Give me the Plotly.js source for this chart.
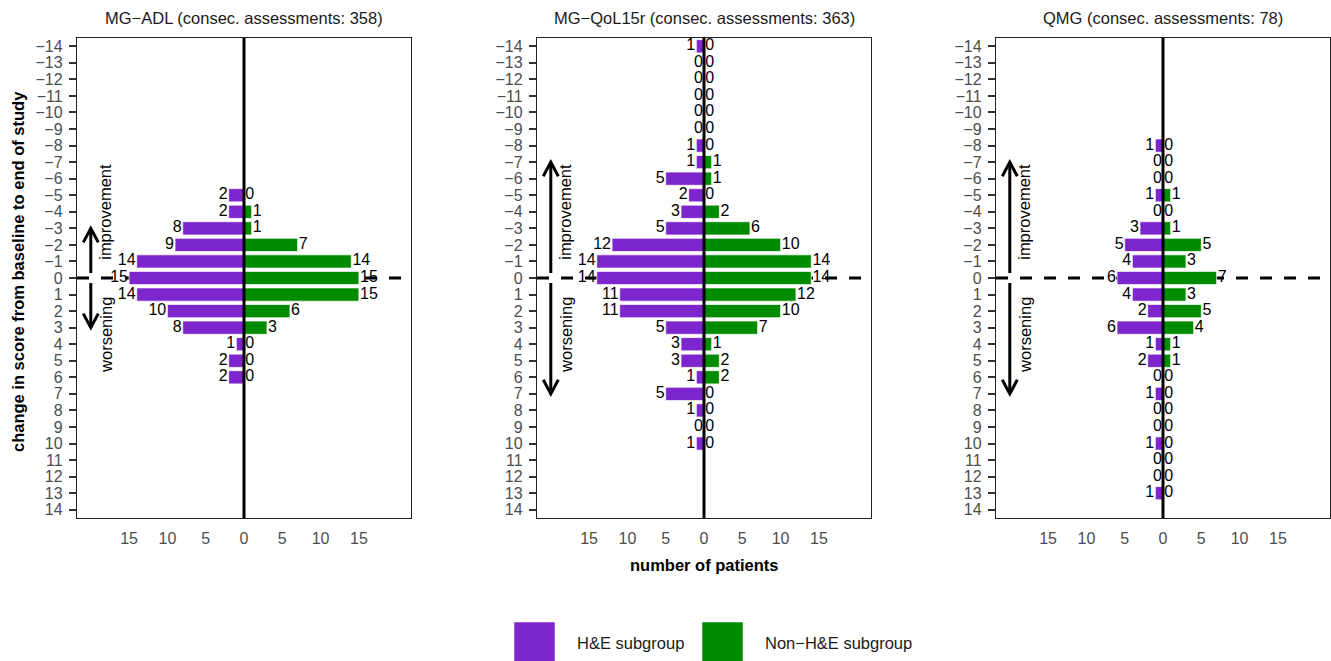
<!DOCTYPE html>
<html>
<head>
<meta charset="utf-8">
<script src="https://cdn.plot.ly/plotly-3.0.1.min.js"></script>
<style>html,body{margin:0;padding:0;background:#fff;}#chart{width:1331px;height:661px;}</style>
</head>
<body>
<div id="chart"></div>
<script>
// ---------- data ----------
const panelTitles = [
  "MG\u2212ADL (consec. assessments: 358)",
  "MG\u2212QoL15r (consec. assessments: 363)",
  "QMG (consec. assessments: 78)"
];
const seriesNames = ["H&amp;E subgroup", "Non\u2212H&amp;E subgroup"];

const changeADL = [-5, -4, -3, -2, -1, 0, 1, 2, 3, 4, 5, 6];
const heADL     = [ 2,  2,  8,  9, 14, 15, 14, 10, 8, 1, 2, 2];
const nonADL    = [ 0,  1,  1,  7, 14, 15, 15,  6, 3, 0, 0, 0];

const changeQoL = [-14, -13, -12, -11, -10, -9, -8, -7, -6, -5, -4, -3, -2, -1, 0, 1, 2, 3, 4, 5, 6, 7, 8, 9, 10];
const heQoL     = [  1,   0,   0,   0,   0,  0,  1,  1,  5,  2,  3,  5, 12, 14, 14, 11, 11, 5, 3, 3, 1, 5, 1, 0, 1];
const nonQoL    = [  0,   0,   0,   0,   0,  0,  0,  1,  1,  0,  2,  6, 10, 14, 14, 12, 10, 7, 1, 2, 2, 0, 0, 0, 0];

const changeQMG = [-8, -7, -6, -5, -4, -3, -2, -1, 0, 1, 2, 3, 4, 5, 6, 7, 8, 9, 10, 11, 12, 13];
const heQMG     = [ 1,  0,  0,  1,  0,  3,  5,  4, 6, 4, 2, 6, 1, 2, 0, 1, 0, 0, 1, 0, 0, 1];
const nonQMG    = [ 0,  0,  0,  1,  0,  1,  5,  3, 7, 3, 5, 4, 1, 1, 0, 0, 0, 0, 0, 0, 0, 0];

const arrowReach = [3, 7, 7];          // how far the improvement / worsening arrows extend

const yTickVals = [-14,-13,-12,-11,-10,-9,-8,-7,-6,-5,-4,-3,-2,-1,0,1,2,3,4,5,6,7,8,9,10,11,12,13,14];
const xTickVals = [-15, -10, -5, 0, 5, 10, 15];
const xTickText = ["15", "10", "5", "0", "5", "10", "15"];

// ---------- styling ----------
const W = 1331, H = 661;
const PURPLE = "#7D26CD", GREEN = "#008B00";
const FONT = "Liberation Sans, Arial, Helvetica, sans-serif";
const panelsPx = [[77, 411], [537, 871], [996, 1330]];
const plotTop = 38, plotBottom = 518;
const px2x = p => p / W;
const py2y = p => (H - p) / H;

const panels = [
  {change: changeADL, he: heADL, non: nonADL},
  {change: changeQoL, he: heQoL, non: nonQoL},
  {change: changeQMG, he: heQMG, non: nonQMG}
];

const traces = [];
const shapes = [];
const annotations = [];
const layout = {
  width: W, height: H, autosize: false,
  margin: {l: 0, r: 0, t: 0, b: 0},
  paper_bgcolor: "#fff", plot_bgcolor: "#fff",
  showlegend: false,
  barmode: "overlay",
  font: {family: FONT, color: "#000"}
};

panels.forEach((p, i) => {
  const n = i === 0 ? "" : String(i + 1);
  const xa = "x" + n, ya = "y" + n;
  traces.push({
    type: "bar", orientation: "h", xaxis: xa, yaxis: ya,
    y: p.change, x: p.he.map(v => -v), width: 0.8,
    marker: {color: PURPLE, line: {color: "rgba(255,255,255,0.7)", width: 1}},
    hoverinfo: "skip"
  });
  traces.push({
    type: "bar", orientation: "h", xaxis: xa, yaxis: ya,
    y: p.change, x: p.non, width: 0.8,
    marker: {color: GREEN, line: {color: "rgba(255,255,255,0.7)", width: 1}},
    hoverinfo: "skip"
  });
  traces.push({
    type: "scatter", mode: "markers+text", xaxis: xa, yaxis: ya,
    y: p.change, x: p.he.map(v => -v), text: p.he.map(String),
    textposition: "middle left", marker: {size: 0.2, opacity: 0},
    textfont: {family: FONT, size: 16, color: "#000"}, cliponaxis: false, hoverinfo: "skip"
  });
  traces.push({
    type: "scatter", mode: "markers+text", xaxis: xa, yaxis: ya,
    y: p.change, x: p.non, text: p.non.map(String),
    textposition: "middle right", marker: {size: 0.2, opacity: 0},
    textfont: {family: FONT, size: 16, color: "#000"}, cliponaxis: false, hoverinfo: "skip"
  });

  layout["xaxis" + n] = {
    domain: [px2x(panelsPx[i][0]), px2x(panelsPx[i][1])],
    anchor: ya, range: [-21.8, 21.8],
    tickvals: xTickVals, ticktext: xTickText,
    ticks: "outside", ticklen: 6, tickcolor: "rgba(0,0,0,0)",
    tickfont: {family: FONT, size: 16, color: "#4D4D4D"},
    showgrid: false, zeroline: false,
    showline: true, mirror: true, linecolor: "#222", linewidth: 1.2,
    fixedrange: true
  };
  layout["yaxis" + n] = {
    domain: [py2y(plotBottom), py2y(plotTop)],
    anchor: xa, range: [14.5, -14.5],
    tickvals: yTickVals,
    ticks: "outside", ticklen: 7, tickwidth: 2, tickcolor: "#333",
    ticklabelstandoff: 3,
    tickfont: {family: FONT, size: 16, color: "#4D4D4D"},
    showgrid: false, zeroline: false,
    showline: true, mirror: true, linecolor: "#222", linewidth: 1.2,
    fixedrange: true
  };

  // dashed line at no change
  shapes.push({type: "line", layer: "below", xref: xa + " domain", yref: ya,
    x0: 0, x1: 1, y0: 0, y1: 0, line: {color: "#000", width: 3, dash: "12px,12px"}});
  // vertical axis at 0 patients
  shapes.push({type: "line", layer: "above", xref: xa, yref: ya + " domain",
    x0: 0, x1: 0, y0: 0, y1: 1, line: {color: "#000", width: 3}});
  // improvement / worsening arrows
  const ax = -20, r = arrowReach[i], hx = 0.98, hy = 0.85;
  shapes.push({type: "path", layer: "above", xref: xa, yref: ya,
    path: `M${ax},-0.3 L${ax},${-r}`, line: {color: "#000", width: 3}});
  shapes.push({type: "path", layer: "above", xref: xa, yref: ya,
    path: `M${ax - hx},${-r + hy} L${ax},${-r} L${ax + hx},${-r + hy}`, line: {color: "#000", width: 3}});
  shapes.push({type: "path", layer: "above", xref: xa, yref: ya,
    path: `M${ax},0.3 L${ax},${r}`, line: {color: "#000", width: 3}});
  shapes.push({type: "path", layer: "above", xref: xa, yref: ya,
    path: `M${ax - hx},${r - hy} L${ax},${r} L${ax + hx},${r - hy}`, line: {color: "#000", width: 3}});

  annotations.push({xref: xa, yref: ya, x: -18.1, y: -1, text: "improvement", textangle: -90,
    xanchor: "center", yanchor: "bottom", showarrow: false,
    font: {family: FONT, size: 16.5, color: "#000"}});
  annotations.push({xref: xa, yref: ya, x: -18.1, y: 1, text: "worsening", textangle: -90,
    xanchor: "center", yanchor: "top", showarrow: false,
    font: {family: FONT, size: 16.5, color: "#000"}});

  annotations.push({xref: "paper", yref: "paper",
    x: px2x((panelsPx[i][0] + panelsPx[i][1]) / 2), y: py2y(18),
    text: panelTitles[i], showarrow: false, xanchor: "center", yanchor: "middle",
    font: {family: FONT, size: 16.5, color: "#1A1A1A"}});
});

// axis titles
annotations.push({xref: "paper", yref: "paper", x: px2x(18), y: py2y(272),
  text: "<b>change in score from baseline to end of study</b>", textangle: -90,
  showarrow: false, xanchor: "center", yanchor: "middle",
  font: {family: FONT, size: 16.5, color: "#000"}});
annotations.push({xref: "paper", yref: "paper", x: px2x(704), y: py2y(565),
  text: "<b>number of patients</b>", showarrow: false, xanchor: "center", yanchor: "middle",
  font: {family: FONT, size: 16.5, color: "#000"}});

// legend
const legendKeys = [[514, 555, PURPLE, 575], [702, 743, GREEN, 763]];
legendKeys.forEach((k, j) => {
  shapes.push({type: "rect", xref: "paper", yref: "paper",
    x0: px2x(k[0]), x1: px2x(k[1]), y0: py2y(663), y1: py2y(622),
    fillcolor: k[2], line: {color: "rgba(255,255,255,0.5)", width: 1}});
  annotations.push({xref: "paper", yref: "paper", x: px2x(k[3]), y: py2y(643),
    text: seriesNames[j], showarrow: false, xanchor: "left", yanchor: "middle",
    font: {family: FONT, size: 16.5, color: "#1A1A1A"}});
});

layout.shapes = shapes;
layout.annotations = annotations;

Plotly.newPlot("chart", traces, layout, {staticPlot: true, displayModeBar: false});
</script>
</body>
</html>
